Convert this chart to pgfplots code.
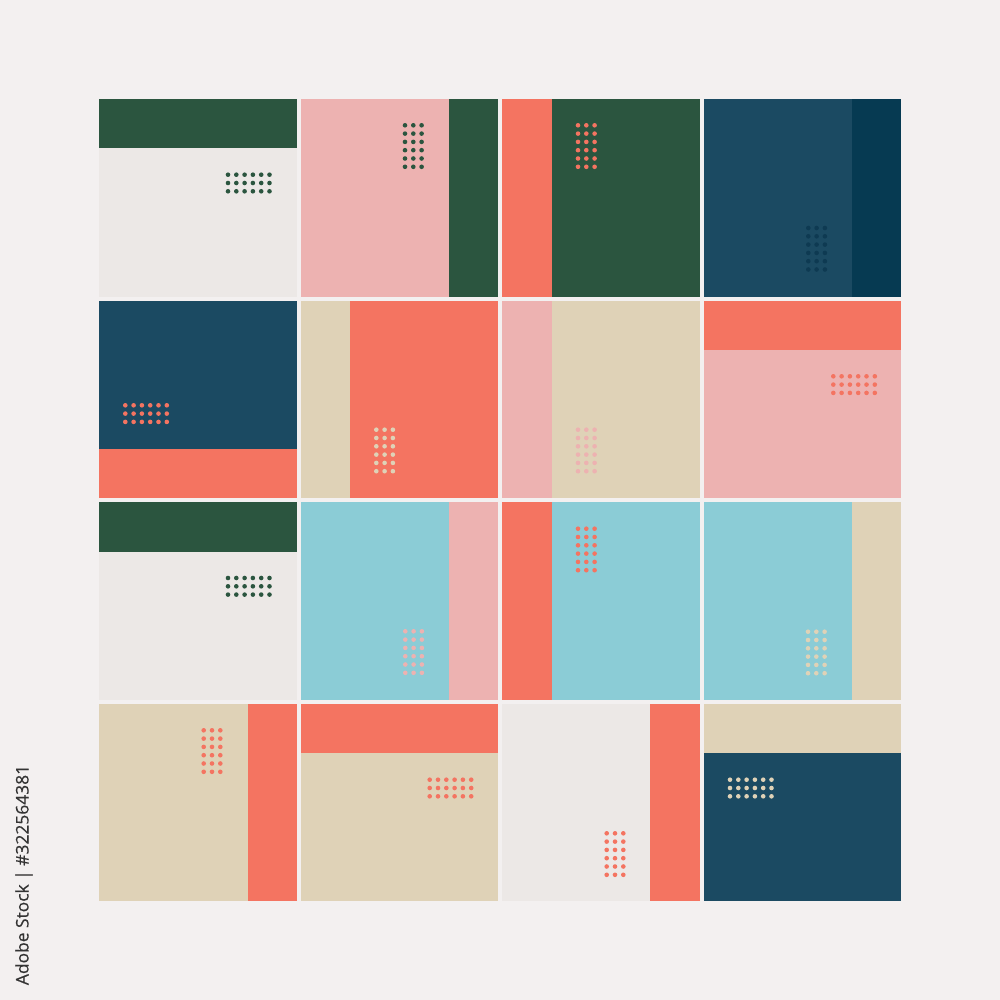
\documentclass[border=0pt]{standalone}
\usepackage{pgfplots}
\pgfplotsset{compat=1.18}
\usepackage{fontspec}
\setmainfont{Open Sans}
\newfontfamily\wm[FakeBold=0.35]{Open Sans}
\definecolor{bgc}{HTML}{F3F0F0}
\definecolor{lgray}{HTML}{ECE8E6}
\definecolor{dgreen}{HTML}{2B553F}
\definecolor{pinkc}{HTML}{EDB2B1}
\definecolor{coral}{HTML}{F47461}
\definecolor{blue}{HTML}{1B4A62}
\definecolor{navy}{HTML}{063A52}
\definecolor{navydot}{HTML}{0E3A52}
\definecolor{beige}{HTML}{DFD2B7}
\definecolor{lblue}{HTML}{8BCCD6}
\definecolor{txt}{HTML}{333333}
% 1 px of the reference = 0.5pt; dot pitch 8.3 px, dot radius 2.3 px
\pgfdeclareplotmark{dotsH}{%
  \foreach \i in {0,...,5}{\foreach \j in {0,...,2}{%
    \pgfpathcircle{\pgfpoint{\i*4.15pt}{-\j*4.15pt}}{1.15pt}\pgfusepathqfill}}}
\pgfdeclareplotmark{dotsV}{%
  \foreach \i in {0,...,2}{\foreach \j in {0,...,5}{%
    \pgfpathcircle{\pgfpoint{\i*4.15pt}{-\j*4.15pt}}{1.15pt}\pgfusepathqfill}}}
\newcommand\rect[5]{\addplot[fill=#1,draw=none] coordinates {(#2,#3) (#4,#3) (#4,#5) (#2,#5)} -- cycle;}
\newcommand\blk[4]{\addplot[only marks, mark=#1, draw=#2, fill=#2] coordinates {(#3,#4)};}
\begin{document}
\begin{tikzpicture}
\begin{axis}[scale only axis, width=500pt, height=500pt,
  xmin=0, xmax=1000, ymin=0, ymax=1000, y dir=reverse,
  hide axis, clip=false]
\rect{bgc}{0}{0}{1000}{1000}
% row 1
\rect{lgray}{99}{99}{296.5}{296.5}
\rect{dgreen}{99}{99}{296.5}{148.5}
\rect{pinkc}{300.5}{99}{498}{296.5}
\rect{dgreen}{449}{99}{498}{296.5}
\rect{dgreen}{502}{99}{699.5}{296.5}
\rect{coral}{502}{99}{551.5}{296.5}
\rect{blue}{703.5}{99}{901}{296.5}
\rect{navy}{851.5}{99}{901}{296.5}
% row 2
\rect{blue}{99}{300.5}{296.5}{498}
\rect{coral}{99}{448.5}{296.5}{498}
\rect{coral}{300.5}{300.5}{498}{498}
\rect{beige}{300.5}{300.5}{350}{498}
\rect{beige}{502}{300.5}{699.5}{498}
\rect{pinkc}{502}{300.5}{551.5}{498}
\rect{pinkc}{703.5}{300.5}{901}{498}
\rect{coral}{703.5}{300.5}{901}{350}
% row 3
\rect{lgray}{99}{502}{296.5}{699.5}
\rect{dgreen}{99}{502}{296.5}{551.5}
\rect{lblue}{300.5}{502}{498}{699.5}
\rect{pinkc}{449}{502}{498}{699.5}
\rect{lblue}{502}{502}{699.5}{699.5}
\rect{coral}{502}{502}{551.5}{699.5}
\rect{lblue}{703.5}{502}{901}{699.5}
\rect{beige}{851.5}{502}{901}{699.5}
% row 4
\rect{beige}{99}{703.5}{296.5}{901}
\rect{coral}{247.5}{703.5}{296.5}{901}
\rect{beige}{300.5}{703.5}{498}{901}
\rect{coral}{300.5}{703.5}{498}{753}
\rect{lgray}{502}{703.5}{699.5}{901}
\rect{coral}{650}{703.5}{699.5}{901}
\rect{blue}{703.5}{703.5}{901}{901}
\rect{beige}{703.5}{703.5}{901}{753}
% dot blocks (top-left dot centre)
\blk{dotsH}{dgreen}{228}{174.7}
\blk{dotsV}{dgreen}{405}{125.3}
\blk{dotsV}{coral}{578}{125.3}
\blk{dotsV}{navydot}{808.3}{228}
\blk{dotsH}{coral}{125.3}{405.3}
\blk{dotsV}{beige}{376.3}{429.7}
\blk{dotsV}{pinkc}{578}{429.7}
\blk{dotsH}{coral}{833.3}{376.3}
\blk{dotsH}{dgreen}{228}{578}
\blk{dotsV}{pinkc}{405.3}{631.3}
\blk{dotsV}{coral}{578}{528.7}
\blk{dotsV}{beige}{808}{631.7}
\blk{dotsV}{coral}{203.7}{730.3}
\blk{dotsH}{coral}{429.7}{779.7}
\blk{dotsV}{coral}{606.7}{833.3}
\blk{dotsH}{beige}{730}{779.7}
\node[rotate=90, text=txt, font=\wm\fontsize{8.7}{10}\selectfont, inner sep=0pt] at (axis cs:24,875) {Adobe Stock | \#322564381};
\end{axis}
\end{tikzpicture}
\end{document}
